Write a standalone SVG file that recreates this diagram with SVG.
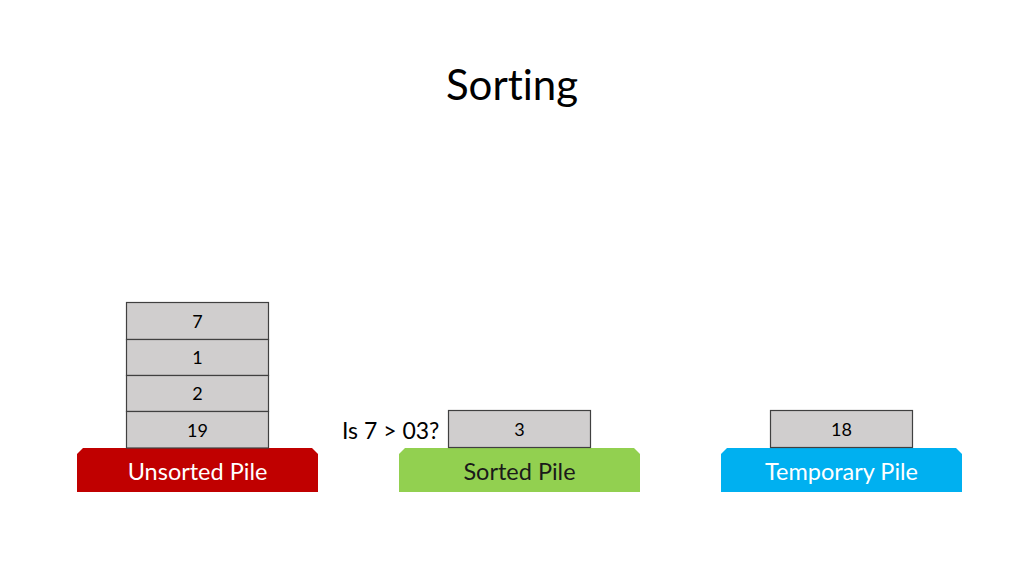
<svg xmlns="http://www.w3.org/2000/svg" width="1024" height="576" viewBox="0 0 1024 576">
<style>
text{font-family:Lato,"Open Sans","Liberation Sans",sans-serif;font-variant-ligatures:none}
.cell{fill:#D0CECE;stroke:#404040;stroke-width:1.2}
.ct{font-size:18px;fill:#000;text-anchor:middle}
.bt{font-size:23.5px;text-anchor:middle}
</style>
<rect width="1024" height="576" fill="#fff"/>
<text x="512" y="100" font-size="42" text-anchor="middle" fill="#000">Sorting</text>
<g id="unsorted-pile">
<path d="M83 448H312L318 454V492H77V454Z" fill="#C00000"/>
<text class="bt" x="197.5" y="480" fill="#fff">Unsorted Pile</text>
</g>
<g id="sorted-pile">
<path d="M405 448H634L640 454V492H399V454Z" fill="#92D050"/>
<text class="bt" x="519.5" y="480" fill="#1a1a1a">Sorted Pile</text>
</g>
<g id="temporary-pile">
<path d="M727 448H956L962 454V492H721V454Z" fill="#00B0F0"/>
<text class="bt" x="841.5" y="480" fill="#fff">Temporary Pile</text>
</g>
<g id="card-7"><rect class="cell" x="126.5" y="302.5" width="142" height="37"/><text class="ct" x="197.5" y="328">7</text></g>
<g id="card-1"><rect class="cell" x="126.5" y="339.5" width="142" height="36"/><text class="ct" x="197.5" y="364">1</text></g>
<g id="card-2"><rect class="cell" x="126.5" y="375.5" width="142" height="36"/><text class="ct" x="197.5" y="400">2</text></g>
<g id="card-19"><rect class="cell" x="126.5" y="411.5" width="142" height="36.5"/><text class="ct" x="197.5" y="437">19</text></g>
<g id="card-3"><rect class="cell" x="448.5" y="410.5" width="142" height="37"/><text class="ct" x="519.5" y="436">3</text></g>
<g id="card-18"><rect class="cell" x="770.5" y="410.5" width="142" height="37"/><text class="ct" x="841.5" y="436">18</text></g>
<text x="342" y="439" font-size="23" fill="#000">Is 7 &gt; 03?</text>
<g id="connectors"/>
</svg>
